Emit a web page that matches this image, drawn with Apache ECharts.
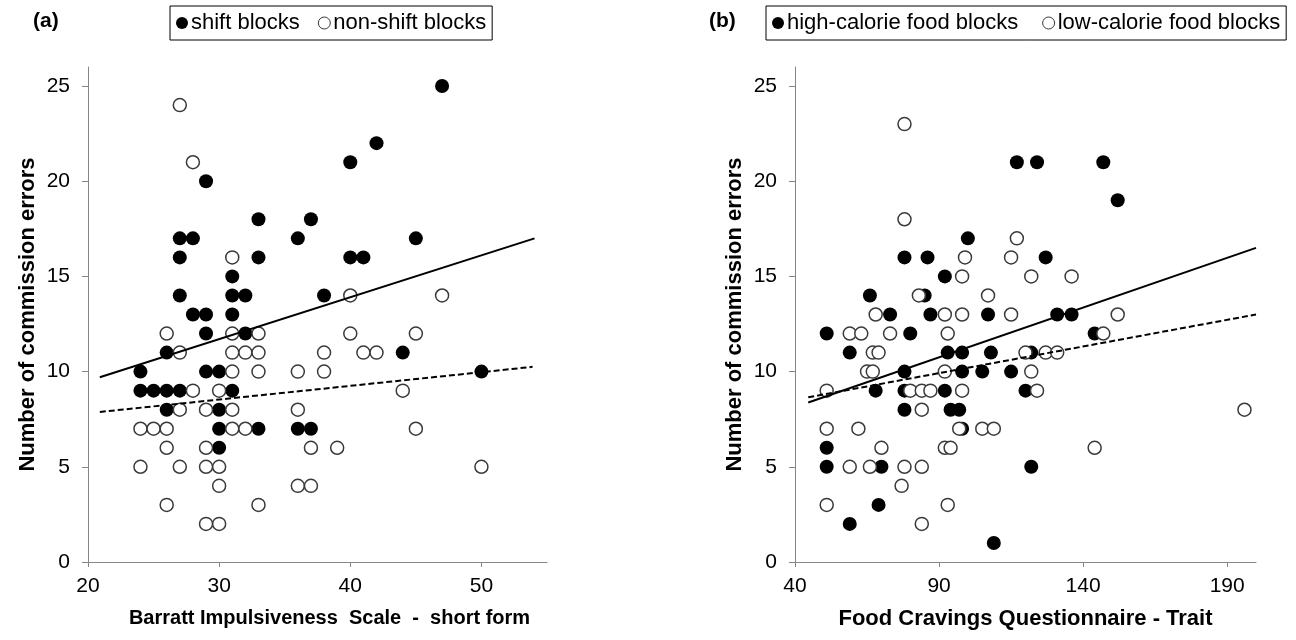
<!DOCTYPE html>
<html>
<head>
<meta charset="utf-8">
<script src="https://cdn.jsdelivr.net/npm/echarts@6/dist/echarts.min.js"></script>
<style>html,body{margin:0;padding:0;background:#fff}#c{width:1296px;height:640px}</style>
</head>
<body>
<div id="c"></div>
<script>
// ---- Panel (a): Barratt Impulsiveness Scale ----
const aShift = [[47,25],[42,22],[40,21],[29,20],[33,18],[37,18],[27,17],[28,17],[36,17],[45,17],[27,16],[33,16],[40,16],[41,16],[31,15],[27,14],[31,14],[32,14],[38,14],[28,13],[29,13],[31,13],[29,12],[32,12],[26,11],[44,11],[24,10],[29,10],[30,10],[50,10],[24,9],[25,9],[26,9],[27,9],[31,9],[26,8],[30,8],[30,7],[33,7],[36,7],[37,7],[30,6]];
const aNonShift = [[27,24],[28,21],[31,16],[26,12],[31,12],[33,12],[40,14],[47,14],[40,12],[45,12],[27,11],[31,11],[32,11],[33,11],[38,11],[41,11],[42,11],[31,10],[33,10],[36,10],[38,10],[28,9],[30,9],[44,9],[27,8],[29,8],[31,8],[36,8],[24,7],[25,7],[26,7],[31,7],[32,7],[45,7],[26,6],[29,6],[37,6],[39,6],[24,5],[27,5],[29,5],[30,5],[50,5],[30,4],[36,4],[37,4],[26,3],[33,3],[29,2],[30,2]];
const aShiftTrend = [[20.9,9.7],[54.05,17.0]];
const aNonShiftTrend = [[20.9,7.88],[53.9,10.25]];
const aXTicks = [20,30,40,50];

// ---- Panel (b): Food Cravings Questionnaire ----
const bHigh = [[117,21],[124,21],[147,21],[152,19],[100,17],[78,16],[86,16],[127,16],[92,15],[66,14],[85,14],[73,13],[87,13],[107,13],[131,13],[136,13],[51,12],[80,12],[144,12],[59,11],[93,11],[98,11],[108,11],[122,11],[78,10],[98,10],[105,10],[115,10],[68,9],[78,9],[92,9],[120,9],[78,8],[94,8],[97,8],[98,7],[51,6],[51,5],[70,5],[122,5],[69,3],[59,2],[109,1]];
const bLow = [[78,23],[78,18],[117,17],[99,16],[115,16],[98,15],[122,15],[136,15],[83,14],[107,14],[68,13],[92,13],[98,13],[115,13],[152,13],[59,12],[63,12],[73,12],[93,12],[147,12],[67,11],[69,11],[120,11],[127,11],[131,11],[65,10],[67,10],[92,10],[122,10],[51,9],[80,9],[84,9],[87,9],[98,9],[124,9],[84,8],[196,8],[51,7],[62,7],[97,7],[105,7],[109,7],[70,6],[92,6],[94,6],[144,6],[59,5],[66,5],[78,5],[84,5],[77,4],[51,3],[93,3],[84,2]];
const bHighTrend = [[44.6,8.38],[200,16.5]];
const bLowTrend = [[44.6,8.65],[200,13.0]];
const bXTicks = [40,90,140,190];

const yTicks = [0,5,10,15,20,25];
const yName = 'Number of commission errors';
const aXName = 'Barratt Impulsiveness  Scale  -  short form';
const bXName = 'Food Cravings Questionnaire - Trait';
const aLegend = ['shift blocks','non-shift blocks'];
const bLegend = ['high-calorie food blocks','low-calorie food blocks'];

const FONT = '"Liberation Sans", Arial, sans-serif';
const AXC = '#868686';

function xAxis(gi, min, max, ticks, name, fs, pad){
  return {
    type:'value', gridIndex:gi, min:min, max:max,
    name:name, nameLocation:'middle', nameGap:46,
    nameTextStyle:{fontFamily:FONT, fontSize:fs, fontWeight:'bold', color:'#000', padding:pad},
    axisLine:{show:true, onZero:false, lineStyle:{color:AXC, width:1}},
    axisTick:{show:true, length:5, customValues:ticks, lineStyle:{color:AXC}},
    axisLabel:{fontFamily:FONT, fontSize:21, color:'#000', margin:14, customValues:ticks},
    splitLine:{show:false}
  };
}
function yAxis(gi){
  return {
    type:'value', gridIndex:gi, min:0, max:26,
    name:yName, nameLocation:'middle', nameGap:49, nameRotate:90,
    nameTextStyle:{fontFamily:FONT, fontSize:22, fontWeight:'bold', color:'#000'},
    axisLine:{show:true, onZero:false, lineStyle:{color:AXC, width:1}},
    axisTick:{show:true, length:6, customValues:yTicks, lineStyle:{color:AXC}},
    axisLabel:{fontFamily:FONT, fontSize:21, color:'#000', margin:18, customValues:yTicks},
    splitLine:{show:false}
  };
}
const filledStyle = {color:'#000', opacity:1};
const openStyle = {color:'#fff', borderColor:'#3a3a3a', borderWidth:1.5, opacity:1};
function scatter(name, gi, data, style, size){
  return {name:name, type:'scatter', xAxisIndex:gi, yAxisIndex:gi, data:data,
    symbol:'circle', symbolSize:size, itemStyle:style, emphasis:{disabled:true}, z:2};
}
function trend(gi, data, dashed){
  return {type:'line', xAxisIndex:gi, yAxisIndex:gi, data:data, symbol:'none',
    lineStyle:{color:'#000', width:2, type: dashed ? [6,3] : 'solid'}, z:3, silent:true};
}
function legend(left, names, gap){
  return {
    left:left, top:6, orient:'horizontal',
    padding:[5,6], itemGap:gap, itemWidth:12, itemHeight:12,
    borderColor:'#000', borderWidth:1, backgroundColor:'#fff',
    textStyle:{fontFamily:FONT, fontSize:22, color:'#000', lineHeight:24, padding:[0,0,0,-2]},
    selectedMode:false,
    data:[
      {name:names[0], icon:'circle', itemStyle:{color:'#000'}},
      {name:names[1], icon:'circle', itemStyle:{color:'#fff', borderColor:'#3a3a3a', borderWidth:1}}
    ]
  };
}

const chart = echarts.init(document.getElementById('c'), null, {renderer:'canvas'});
chart.setOption({
  animation:false,
  backgroundColor:'#fff',
  grid:[
    {left:88, top:67, width:459, height:495},
    {left:795, top:67, width:461, height:495}
  ],
  xAxis:[xAxis(0,20,55,aXTicks,aXName,20,[0,0,0,24]), xAxis(1,40,200,bXTicks,bXName,22,0)],
  yAxis:[yAxis(0), yAxis(1)],
  legend:[legend(170, aLegend, 18), legend(766, bLegend, 24)],
  graphic:[
    {type:'text', left:33, top:11, style:{text:'(a)', font:'bold 21px '+FONT, fill:'#000'}},
    {type:'text', left:709, top:11, style:{text:'(b)', font:'bold 21px '+FONT, fill:'#000'}}
  ],
  series:[
    scatter(aLegend[0],0,aShift,filledStyle,14),
    scatter(aLegend[1],0,aNonShift,openStyle,13),
    trend(0,aShiftTrend,false),
    trend(0,aNonShiftTrend,true),
    scatter(bLegend[0],1,bHigh,filledStyle,14),
    scatter(bLegend[1],1,bLow,openStyle,13),
    trend(1,bHighTrend,false),
    trend(1,bLowTrend,true)
  ]
});
</script>
</body>
</html>
